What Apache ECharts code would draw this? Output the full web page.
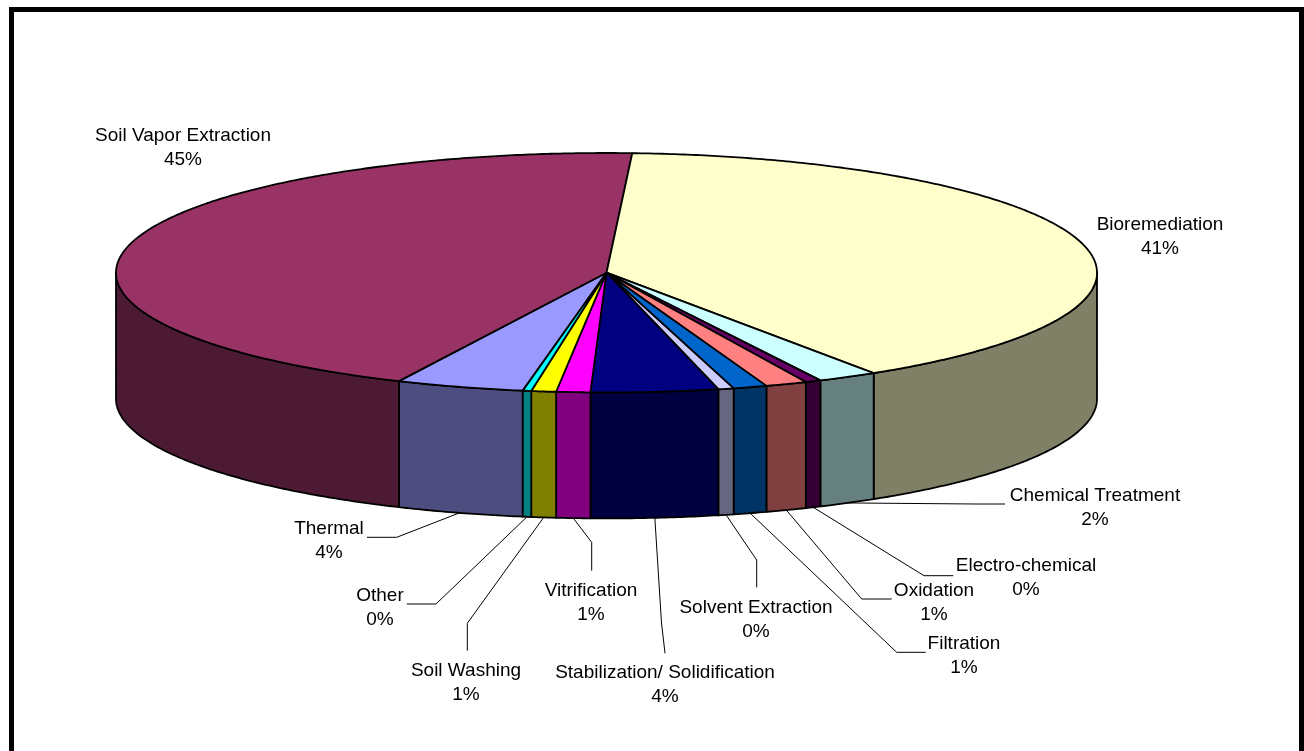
<!DOCTYPE html>
<html><head><meta charset="utf-8">
<script src="https://cdn.jsdelivr.net/npm/echarts/dist/echarts.min.js"></script>
<style>html,body{margin:0;padding:0;background:#fff;}#chart{width:1304px;height:751px;}</style>
</head><body><div id="chart"></div>
<script>
// ---- data ----
const categories = ['Thermal', 'Soil Vapor Extraction', 'Bioremediation', 'Chemical Treatment',
  'Electro-chemical', 'Oxidation', 'Filtration', 'Solvent Extraction',
  'Stabilization/ Solidification', 'Vitrification', 'Soil Washing', 'Other'];
const shares = [3.8, 44.7, 40.8, 1.8, 0.47, 1.24, 1.0, 0.46, 3.75, 1.0, 0.73, 0.25];

// ---- styles / layout ----
const colors = ['#9999FF', '#993366', '#FFFFCC', '#CCFFFF', '#660066', '#FF8080',
  '#0066CC', '#CCCCFF', '#000080', '#FF00FF', '#FFFF00', '#00FFFF'];
const pie = { cx: 606.5, cy: 272.7, rx: 490.5, ry: 119.7, depth: 126, startAngle: 188.81, perspective: 6.65 };
const labelLayout = [
  { x: 329, y: 540.5, leader: [[396.7, 537.3], [367, 537.3]] },
  { x: 183, y: 148 },
  { x: 1160, y: 237 },
  { x: 1095, y: 507.7, leader: [[976, 504], [1005, 504]] },
  { x: 1026, y: 577.5, leader: [[924, 575.7], [953.3, 575.7]] },
  { x: 934, y: 602.5, leader: [[861.7, 599], [891.7, 599]] },
  { x: 964, y: 656, leader: [[896.7, 652.3], [925.7, 652.3]] },
  { x: 756, y: 619.7, leader: [[756.7, 560], [756.7, 587.3]] },
  { x: 665, y: 685.2, leader: [[661.5, 623], [665, 653.3]] },
  { x: 591, y: 602.5, leader: [[591.7, 542.3], [591.7, 570.7]] },
  { x: 466, y: 683, leader: [[467.3, 623.3], [467.3, 650.7]] },
  { x: 380, y: 607.4, leader: [[436, 604], [406.7, 604]] }
];

const total = shares.reduce((a, b) => a + b, 0);
const cumBefore = shares.map((v, i) => shares.slice(0, i).reduce((a, b) => a + b, 0));
const seriesData = categories.map((n, i) => ({ name: n, value: [shares[i], cumBefore[i], total] }));

const D2R = Math.PI / 180;
function screenAngle(t) { return t - pie.perspective * Math.sin(t * D2R); }
function pt(phi, dz) {
  return [pie.cx + pie.rx * Math.sin(phi * D2R), pie.cy - pie.ry * Math.cos(phi * D2R) + (dz || 0)];
}
function arc(a, b, dz) {
  const n = Math.max(2, Math.ceil(Math.abs(b - a) / 0.5));
  const out = [];
  for (let k = 0; k <= n; k++) out.push(pt(a + (b - a) * k / n, dz));
  return out;
}
function shade(hex, f) {
  const n = parseInt(hex.slice(1), 16);
  const r = Math.round(((n >> 16) & 255) * f), g = Math.round(((n >> 8) & 255) * f), b = Math.round((n & 255) * f);
  return 'rgb(' + r + ',' + g + ',' + b + ')';
}

function renderItem(params, api) {
  const i = params.dataIndex;
  const v = api.value(0), before = api.value(1), tot = api.value(2);
  const t0 = pie.startAngle + before / tot * 360, t1 = t0 + v / tot * 360;
  const p0 = screenAngle(t0), p1 = screenAngle(t1);
  const color = colors[i];
  const children = [];
  [[90, 270], [450, 630]].forEach(([lo, hi]) => {
    const a = Math.max(p0, lo), b = Math.min(p1, hi);
    if (b > a) {
      const top = arc(a, b, 0), bot = arc(b, a, pie.depth);
      children.push({ type: 'polygon', shape: { points: top.concat(bot) },
        style: { fill: shade(color, 0.5), stroke: '#000', lineWidth: 1.8, lineJoin: 'round' } });
    }
  });
  children.push({ type: 'polygon', shape: { points: [[pie.cx, pie.cy]].concat(arc(p0, p1, 0)) },
    style: { fill: color, stroke: '#000', lineWidth: 1.8, lineJoin: 'round' } });
  const L = labelLayout[i];
  if (L.leader) {
    const anchor = pt(screenAngle((t0 + t1) / 2), pie.depth);
    children.push({ type: 'polyline', shape: { points: [anchor].concat(L.leader) },
      style: { stroke: '#000', lineWidth: 1, fill: null } });
  }
  const pct = Math.round(v / tot * 100) + '%';
  children.push({ type: 'text', x: L.x, y: L.y, z2: 10,
    style: { text: categories[i] + '\n' + pct, fill: '#000', fontSize: 19, fontFamily: 'Liberation Sans, Arial, sans-serif',
      align: 'center', textAlign: 'center', verticalAlign: 'middle', textVerticalAlign: 'middle', lineHeight: 24 } });
  return { type: 'group', children: children };
}

const chart = echarts.init(document.getElementById('chart'), null, { renderer: 'canvas' });
chart.setOption({
  animation: false,
  backgroundColor: '#fff',
  graphic: [{ type: 'rect', shape: { x: 11.5, y: 9.5, width: 1290, height: 800 },
    style: { fill: null, stroke: '#000', lineWidth: 5 }, silent: true, z: 100 }],
  series: [{ type: 'custom', coordinateSystem: 'none', silent: true, renderItem: renderItem, data: seriesData }]
});
</script></body></html>
